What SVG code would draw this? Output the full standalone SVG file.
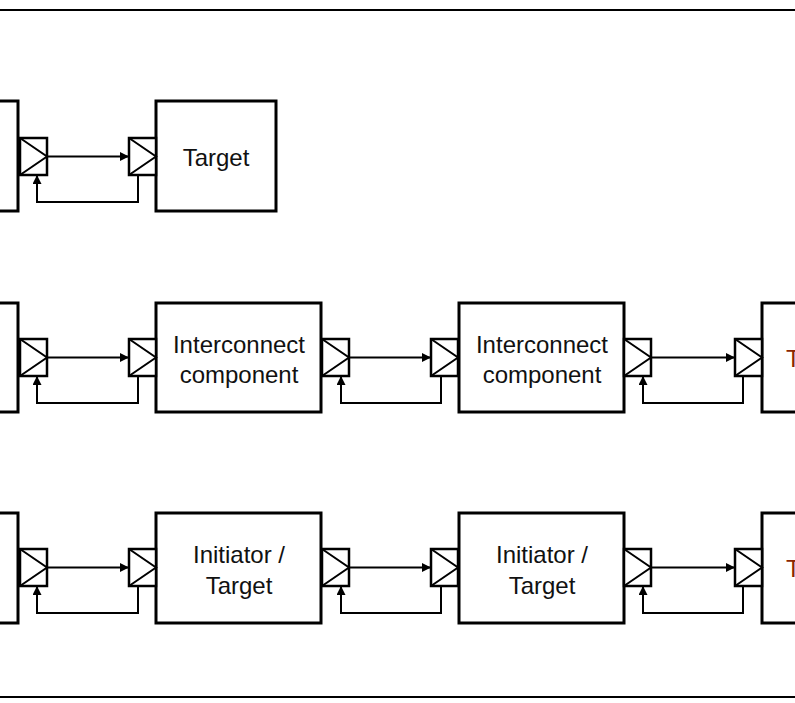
<svg xmlns="http://www.w3.org/2000/svg" width="795" height="703" viewBox="0 0 795 703">
<defs>
<style>
.box{fill:#fff;stroke:#000;stroke-width:3}
.port{fill:#fff;stroke:#000;stroke-width:2.5}
.tri{fill:none;stroke:#000;stroke-width:2}
.wire{fill:none;stroke:#000;stroke-width:2}
.frame{stroke:#000;stroke-width:2}
.lbl{font-family:"Liberation Sans",Arial,sans-serif;font-size:24px;fill:#111;text-anchor:middle}
.red{fill:#8B2500;text-anchor:start}
</style>
<marker id="ah" viewBox="0 0 10 10" refX="10" refY="5" markerWidth="9" markerHeight="9" markerUnits="userSpaceOnUse" orient="auto">
<path d="M0,0 L10,5 L0,10 z" fill="#000"/>
</marker>
<g id="portShape">
<rect class="port" x="0" y="0" width="27" height="37"/>
<polyline class="tri" points="0,0 27,18.5 0,37"/>
</g>
</defs>
<rect x="0" y="0" width="795" height="703" fill="#fff"/>
<line class="frame" x1="0" y1="10" x2="795" y2="10"/>
<line class="frame" x1="0" y1="697" x2="795" y2="697"/>

<!-- Row 1 -->
<g id="r1-init"><rect class="box" x="-100" y="101" width="118" height="110"/></g>
<g id="r1-target"><rect class="box" x="156" y="101" width="120" height="110"/><text class="lbl" x="216" y="166">Target</text></g>
<g id="r1-ports"><use href="#portShape" x="20" y="138"/><use href="#portShape" x="129" y="138"/></g>

<!-- Row 2 -->
<g id="r2-init"><rect class="box" x="-100" y="303" width="118" height="109"/></g>
<g id="r2-ic1"><rect class="box" x="156" y="303" width="165" height="109"/><text class="lbl" x="239" y="353">Interconnect</text><text class="lbl" x="239" y="383">component</text></g>
<g id="r2-ic2"><rect class="box" x="459" y="303" width="165" height="109"/><text class="lbl" x="542" y="353">Interconnect</text><text class="lbl" x="542" y="383">component</text></g>
<g id="r2-target"><rect class="box" x="762" y="303" width="100" height="109"/><text class="lbl red" x="786" y="367">T</text></g>
<g id="r2-ports"><use href="#portShape" x="20" y="339"/><use href="#portShape" x="129" y="339"/><use href="#portShape" x="322" y="339"/><use href="#portShape" x="431" y="339"/><use href="#portShape" x="624" y="339"/><use href="#portShape" x="735" y="339"/></g>

<!-- Row 3 -->
<g id="r3-init"><rect class="box" x="-100" y="513" width="118" height="110"/></g>
<g id="r3-it1"><rect class="box" x="156" y="513" width="165" height="110"/><text class="lbl" x="239" y="563">Initiator /</text><text class="lbl" x="239" y="594">Target</text></g>
<g id="r3-it2"><rect class="box" x="459" y="513" width="165" height="110"/><text class="lbl" x="542" y="563">Initiator /</text><text class="lbl" x="542" y="594">Target</text></g>
<g id="r3-target"><rect class="box" x="762" y="513" width="100" height="110"/><text class="lbl red" x="786" y="577">T</text></g>
<g id="r3-ports"><use href="#portShape" x="20" y="549"/><use href="#portShape" x="129" y="549"/><use href="#portShape" x="322" y="549"/><use href="#portShape" x="431" y="549"/><use href="#portShape" x="624" y="549"/><use href="#portShape" x="735" y="549"/></g>

<g id="connectors">
<line class="wire" x1="47" y1="156.5" x2="129" y2="156.5" marker-end="url(#ah)"/>
<polyline class="wire" points="138,175 138,202 37,202 37,175" marker-end="url(#ah)"/>

<line class="wire" x1="47" y1="357.5" x2="129" y2="357.5" marker-end="url(#ah)"/>
<polyline class="wire" points="138,376 138,403 37,403 37,376" marker-end="url(#ah)"/>
<line class="wire" x1="349" y1="357.5" x2="431" y2="357.5" marker-end="url(#ah)"/>
<polyline class="wire" points="441,376 441,403 341,403 341,376" marker-end="url(#ah)"/>
<line class="wire" x1="651" y1="357.5" x2="735" y2="357.5" marker-end="url(#ah)"/>
<polyline class="wire" points="743,376 743,403 643,403 643,376" marker-end="url(#ah)"/>

<line class="wire" x1="47" y1="567.5" x2="129" y2="567.5" marker-end="url(#ah)"/>
<polyline class="wire" points="138,586 138,613 37,613 37,586" marker-end="url(#ah)"/>
<line class="wire" x1="349" y1="567.5" x2="431" y2="567.5" marker-end="url(#ah)"/>
<polyline class="wire" points="441,586 441,613 341,613 341,586" marker-end="url(#ah)"/>
<line class="wire" x1="651" y1="567.5" x2="735" y2="567.5" marker-end="url(#ah)"/>
<polyline class="wire" points="743,586 743,613 643,613 643,586" marker-end="url(#ah)"/>
</g>
</svg>
